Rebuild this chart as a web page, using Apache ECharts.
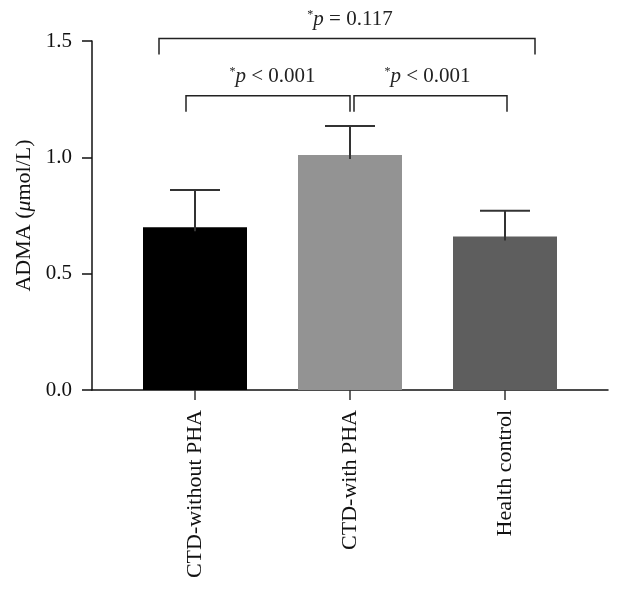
<!DOCTYPE html>
<html>
<head>
<meta charset="utf-8">
<script src="https://cdn.jsdelivr.net/npm/echarts@6/dist/echarts.min.js"></script>
<style>
  html, body { margin: 0; padding: 0; background: #fff; }
  #chart { width: 631px; height: 593px; }
</style>
</head>
<body>
<div id="chart"></div>
<script>
// data
const categories = ['CTD-without PHA', 'CTD-with PHA', 'Health control']
const means = [0.70, 1.01, 0.66]
const upperErr = [0.86, 1.135, 0.77]
const barColors = ['#000000', '#939393', '#5e5e5e']
const yMin = 0
const yMax = 1.5
const yStep = 0.5

// significance brackets: from / to category index, height, label
const bracketFrom = [0, 1, 0]
const bracketTo = [1, 2, 2]
const bracketLevel = [1.265, 1.265, 1.511]
const bracketText = ['< 0.001', '< 0.001', '= 0.117']

const FONT = '"Liberation Serif", "DejaVu Serif", serif'
const INK = '#222'

const chart = echarts.init(document.getElementById('chart'))

// pixel nudges of bracket ends (style only)
const padLeft = [-9, 4, -36]
const padRight = [0, 2, 30]

const option = {
  animation: false,
  grid: [
    // outer frame: y axis and full-width baseline
    { left: 92, right: 23, top: 41, bottom: 203 },
    // bars
    { left: 117.5, right: 48.5, top: 41, bottom: 203 },
  ],
  xAxis: [
    {
      gridIndex: 0,
      type: 'value',
      min: 0,
      max: 1,
      axisLine: { show: true, lineStyle: { color: '#111', width: 1.5 } },
      axisTick: { show: false },
      axisLabel: { show: false },
      splitLine: { show: false },
    },
    {
      gridIndex: 1,
      type: 'category',
      data: categories,
      axisLine: { show: false },
      axisTick: { show: true, alignWithLabel: true, length: 10, lineStyle: { color: '#333', width: 1.5 } },
      axisLabel: {
        rotate: 90,
        margin: 20,
        color: '#111',
        fontFamily: FONT,
        fontSize: 22,
      },
      splitLine: { show: false },
    },
  ],
  yAxis: [
    {
      gridIndex: 0,
      type: 'value',
      min: yMin,
      max: yMax,
      interval: yStep,
      name: '{n|ADMA (}{i|μ}{n|mol/L)}',
      nameLocation: 'middle',
      nameGap: 52,
      nameTextStyle: {
        rich: {
          n: { fontFamily: FONT, fontSize: 22, color: '#111' },
          i: { fontFamily: FONT, fontSize: 22, fontStyle: 'italic', color: '#111' },
        },
      },
      axisLine: { show: true, lineStyle: { color: '#111', width: 1.5 } },
      axisTick: { show: true, length: 10, lineStyle: { color: '#111', width: 1.5 } },
      axisLabel: {
        margin: 20,
        color: '#111',
        fontFamily: FONT,
        fontSize: 21,
        formatter: (v) => v.toFixed(1),
      },
      splitLine: { show: false },
    },
    {
      gridIndex: 1,
      type: 'value',
      min: yMin,
      max: yMax,
      show: false,
      splitLine: { show: false },
    },
  ],
  series: [
    {
      type: 'bar',
      xAxisIndex: 1,
      yAxisIndex: 1,
      barWidth: 104,
      data: means.map((v, i) => ({ value: v, itemStyle: { color: barColors[i] } })),
    },
    {
      // error bars (upper only)
      type: 'custom',
      xAxisIndex: 1,
      yAxisIndex: 1,
      clip: false,
      z: 3,
      data: means.map((v, i) => [i, v, upperErr[i]]),
      renderItem: (params, api) => {
        const base = api.coord([api.value(0), api.value(1)])
        const top = api.coord([api.value(0), api.value(2)])
        const half = 25
        const style = { stroke: '#333', lineWidth: 2 }
        return {
          type: 'group',
          children: [
            { type: 'line', shape: { x1: base[0], y1: base[1] + 4, x2: top[0], y2: top[1] }, style },
            { type: 'line', shape: { x1: top[0] - half, y1: top[1], x2: top[0] + half, y2: top[1] }, style },
          ],
        }
      },
    },
    {
      // significance brackets
      type: 'custom',
      xAxisIndex: 1,
      yAxisIndex: 1,
      clip: false,
      z: 3,
      data: bracketFrom.map((f, i) => [f, bracketTo[i], bracketLevel[i]]),
      renderItem: (params, api) => {
        const i = params.dataIndex
        const a = api.coord([api.value(0), api.value(2)])
        const b = api.coord([api.value(1), api.value(2)])
        const x1 = a[0] + padLeft[i]
        const x2 = b[0] + padRight[i]
        const y = a[1]
        const leg = 16
        return {
          type: 'group',
          children: [
            {
              type: 'polyline',
              shape: { points: [[x1, y + leg], [x1, y], [x2, y], [x2, y + leg]] },
              style: { stroke: INK, lineWidth: 1.5, fill: null },
            },
            {
              type: 'text',
              x: (a[0] + b[0]) / 2,
              y: y - 19,
              style: {
                text: '{s|*}{i|p}{n| ' + bracketText[i] + '}',
                align: 'center',
                verticalAlign: 'middle',
                rich: {
                  s: { fontFamily: FONT, fontSize: 12, fill: INK, verticalAlign: 'top', padding: [0, 0, 8, 0] },
                  i: { fontFamily: FONT, fontSize: 21, fontStyle: 'italic', fill: INK },
                  n: { fontFamily: FONT, fontSize: 21, fill: INK },
                },
              },
            },
          ],
        }
      },
    },
  ],
}

chart.setOption(option)
</script>
</body>
</html>
